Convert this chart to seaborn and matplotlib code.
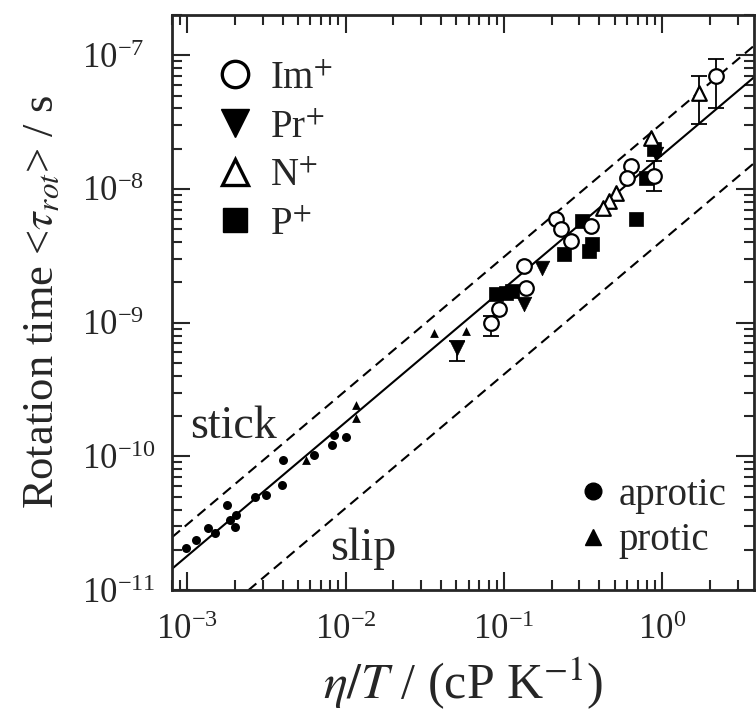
import numpy as np
import pandas as pd
import matplotlib
matplotlib.use("Agg")
import matplotlib.pyplot as plt
from matplotlib.lines import Line2D
from matplotlib.ticker import LogLocator, NullFormatter
import seaborn as sns

# ---- data (eta/T in cP/K, tau_rot in s) ----
# Im+ (open circles)
im_x = [2.20, 0.637, 0.889, 0.600, 0.213, 0.229, 0.356, 0.266, 0.134, 0.138, 0.0828, 0.0929]
im_y = [7.0e-8, 1.49e-8, 1.25e-8, 1.21e-8, 5.97e-9, 5.03e-9, 5.30e-9, 4.09e-9, 2.66e-9, 1.82e-9, 1.0e-9, 1.27e-9]
# Pr+ (filled down triangles)
pr_x = [0.916, 0.174, 0.134, 0.0504]
pr_y = [1.82e-8, 2.57e-9, 1.39e-9, 6.5e-10]
# N+ (open triangles)
n_x = [1.71, 0.851, 0.512, 0.462, 0.424]
n_y = [5.2e-8, 2.40e-8, 9.33e-9, 8.13e-9, 7.21e-9]
# P+ (filled squares)
p_x = [0.792, 0.889, 0.684, 0.312, 0.240, 0.361, 0.345, 0.0889, 0.103, 0.112]
p_y = [1.21e-8, 1.99e-8, 5.97e-9, 5.77e-9, 3.27e-9, 3.89e-9, 3.45e-9, 1.64e-9, 1.67e-9, 1.73e-9]

# small symbols: literature data
aprotic_x = [9.86e-4, 1.14e-3, 1.36e-3, 1.50e-3, 1.77e-3, 1.87e-3, 2.01e-3, 2.04e-3,
             2.69e-3, 3.12e-3, 3.94e-3, 4.05e-3, 6.27e-3, 8.15e-3, 8.39e-3, 1.01e-2]
aprotic_y = [2.06e-11, 2.36e-11, 2.90e-11, 2.66e-11, 4.31e-11, 3.33e-11, 2.95e-11, 3.63e-11,
             4.94e-11, 5.12e-11, 6.08e-11, 9.33e-11, 1.02e-10, 1.21e-10, 1.44e-10, 1.39e-10]
protic_x = [5.58e-3, 1.16e-2, 1.17e-2, 3.61e-2, 5.74e-2]
protic_y = [9.33e-11, 1.92e-10, 2.40e-10, 8.41e-10, 8.71e-10]

# error bars (x, y, lower, upper)
err_x = [2.20, 1.71, 0.0504, 0.0828, 0.889]
err_y = [7.0e-8, 5.2e-8, 6.5e-10, 1.0e-9, 1.25e-8]
err_lo = [4.0e-8, 3.05e-8, 5.2e-10, 8.0e-10, 9.7e-9]
err_hi = [9.3e-8, 6.97e-8, 7.3e-10, 1.13e-9, 1.62e-8]

# model lines tau = C * eta/T
line_names = ['stick', 'fit', 'slip']
line_coef = [3.1e-8, 1.8e-8, 4.1e-9]

# decade ticks
x_major = [1e-3, 1e-2, 1e-1, 1e0]
y_major = [1e-11, 1e-10, 1e-9, 1e-8, 1e-7]

sns.set_style("ticks")
plt.rcParams['font.family'] = ['Liberation Serif', 'DejaVu Serif']
plt.rcParams['mathtext.fontset'] = 'stix'
plt.rcParams['axes.unicode_minus'] = False

fig = plt.figure(figsize=(7.56, 7.15), dpi=100)
ax = fig.add_axes([0.2275, 0.1748, 0.7698, 0.8042])
ax.set_xscale('log')
ax.set_yscale('log')
ax.set_xlim(8e-4, 3.8)
ax.set_ylim(1e-11, 2e-7)

# lines
xl = np.geomspace(8e-4, 3.8, 50)
for name, c in zip(line_names, line_coef):
    if name == 'fit':
        ax.plot(xl, c * xl, color='black', lw=1.5, zorder=1)
    else:
        ax.plot(xl, c * xl, color='black', lw=1.5, dashes=(5, 3), zorder=1)

# error bars
err = np.array([np.array(err_y) - np.array(err_lo), np.array(err_hi) - np.array(err_y)])
ax.errorbar(err_x, err_y, yerr=err, fmt='none', ecolor='black', elinewidth=1.3,
            capsize=6, capthick=1.3, zorder=2)

# small literature points
sns.scatterplot(x=aprotic_x, y=aprotic_y, marker='o', s=42, color='black',
                edgecolor='black', linewidth=0, ax=ax, zorder=3)
sns.scatterplot(x=protic_x, y=protic_y, marker='^', s=40, color='black',
                edgecolor='black', linewidth=0, ax=ax, zorder=3)

# this work
sns.scatterplot(x=p_x, y=p_y, marker='s', s=110, color='black', edgecolor='black',
                linewidth=0.5, ax=ax, zorder=4)
sns.scatterplot(x=pr_x, y=pr_y, marker='v', s=110, color='black', edgecolor='black',
                linewidth=0.5, ax=ax, zorder=4)
sns.scatterplot(x=n_x, y=n_y, marker='^', s=110, color='white', edgecolor='black',
                linewidth=1.6, ax=ax, zorder=5)
sns.scatterplot(x=im_x, y=im_y, marker='o', s=110, color='white', edgecolor='black',
                linewidth=1.6, ax=ax, zorder=5)

# axes styling
for sp in ax.spines.values():
    sp.set_linewidth(2)
    sp.set_visible(True)
ax.set_xticks(x_major)
ax.set_yticks(y_major)
ax.xaxis.set_minor_locator(LogLocator(base=10, subs=np.arange(2, 10), numticks=10))
ax.yaxis.set_minor_locator(LogLocator(base=10, subs=np.arange(2, 10), numticks=10))
ax.xaxis.set_minor_formatter(NullFormatter())
ax.yaxis.set_minor_formatter(NullFormatter())
ax.set_xlim(8e-4, 3.8)
ax.set_ylim(1e-11, 2e-7)
ax.tick_params(which='both', direction='in', top=True, right=True, width=1.5)
ax.tick_params(which='major', length=13, labelsize=25)
ax.tick_params(which='minor', length=7)
ax.tick_params(axis='x', which='major', pad=17)
ax.tick_params(axis='y', which='major', pad=65)
plt.setp(ax.get_yticklabels(), ha='left')

ax.set_xlabel(r"$\eta/T$ / (cP K$^{-1}$)", fontsize=36, labelpad=7)
ax.set_ylabel(r"Rotation time <$\tau_{rot}$> / s", fontsize=32, labelpad=14)

ax.text(1.045e-3, 1.36e-10, "stick", fontsize=33)
ax.text(8.04e-3, 1.67e-11, "slip", fontsize=33)

# legends
h1 = [Line2D([], [], ls='none', marker='o', ms=19, mfc='white', mec='black', mew=2.4),
      Line2D([], [], ls='none', marker='v', ms=20, mfc='black', mec='black'),
      Line2D([], [], ls='none', marker='^', ms=19, mfc='white', mec='black', mew=2.4),
      Line2D([], [], ls='none', marker='s', ms=17, mfc='black', mec='black')]
l1 = [r"Im$^{+}$", r"Pr$^{+}$", r"N$^{+}$", r"P$^{+}$"]
leg1 = ax.legend(h1, l1, loc='upper left', bbox_to_anchor=(0.075, 0.922), frameon=False,
                 fontsize=28, handlelength=1.0, handletextpad=0.4, labelspacing=0.3,
                 borderpad=0, borderaxespad=0)
ax.add_artist(leg1)

h2 = [Line2D([], [], ls='none', marker='o', ms=12, mfc='black', mec='black'),
      Line2D([], [], ls='none', marker='^', ms=12, mfc='black', mec='black')]
ax.legend(h2, ["aprotic", "protic"], loc='upper left', bbox_to_anchor=(0.69, 0.197),
          frameon=False, fontsize=28, handlelength=1.0, handletextpad=0.15,
          labelspacing=0.22, borderpad=0, borderaxespad=0)

fig.savefig("out.png", dpi=100)
